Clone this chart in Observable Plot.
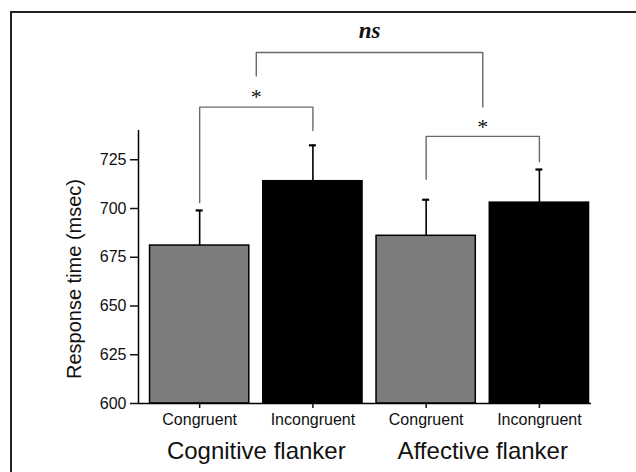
<!DOCTYPE html>
<html>
<head>
<meta charset="utf-8">
<script src="https://cdn.jsdelivr.net/npm/d3@7"></script>
<script src="https://cdn.jsdelivr.net/npm/@observablehq/plot@0.6"></script>
<style>
html, body { margin: 0; padding: 0; background: #fff; }
#wrap { position: relative; width: 636px; height: 472px; overflow: hidden; }
#wrap svg { display: block; }
#border { position: absolute; left: 10px; top: 11px; right: -20px; bottom: -20px;
  border-top: 2px solid #222; border-left: 2px solid #222; pointer-events: none; }
</style>
</head>
<body>
<div id="wrap"><div id="border"></div></div>
<script>
// ---- data ----
const groups = ["Cognitive flanker", "Affective flanker"];
const conditions = ["Congruent", "Incongruent"];
const meanRT = [681, 714, 686, 703];      // bar heights (msec)
const seRT = [18, 18.4, 18.5, 17];         // upward error bars (msec)
const yTicks = [600, 625, 650, 675, 700, 725];
const yMax = 740;
const yLabel = "Response time (msec)";

// significance brackets: [bar, bar] comparisons within groups, then group vs group
const sigLabels = ["*", "*", "ns"];
const bracketLevel = [752, 737, 780];      // msec
const bracketLeftEnd = [703, 715, 768];
const bracketRightEnd = [740, 724, 752];
const sigLabelLevel = [757, 742, 791];

// ---- derived ----
const yMin = yTicks[0];
const bars = meanRT.map((mean, i) => ({
  i, group: groups[Math.floor(i / 2)], condition: conditions[i % 2], mean, se: seRT[i]
}));
const barCenter = i => i + 0.5;
const groupCenter = g => 2 * g + 1;
const bracketEnds = [
  [barCenter(0), barCenter(1)],
  [barCenter(2), barCenter(3)],
  [groupCenter(0), groupCenter(1)]
];
const bracketPts = [];
const sig = [];
bracketEnds.forEach(([a, b], k) => {
  bracketPts.push({id: k, x: a, y: bracketLeftEnd[k]});
  bracketPts.push({id: k, x: a, y: bracketLevel[k]});
  bracketPts.push({id: k, x: b, y: bracketLevel[k]});
  bracketPts.push({id: k, x: b, y: bracketRightEnd[k]});
  sig.push({x: (a + b) / 2, y: sigLabelLevel[k], text: sigLabels[k]});
});
const xDomain = [-0.04, bars.length - 0.04];
const barFill = d => (d.i % 2 === 0 ? "#7d7d7d" : "#000000");

const chart = Plot.plot({
  width: 636,
  height: 472,
  marginLeft: 138,
  marginRight: 45,
  marginTop: 130,
  marginBottom: 69,
  x: {domain: xDomain},
  y: {domain: [yMin, yMax]},
  style: {fontFamily: "'Liberation Sans', Arial, Helvetica, sans-serif", color: "#111", background: "transparent"},
  marks: [
    Plot.rect(bars, {x1: "i", x2: d => d.i + 1, y1: yMin, y2: "mean", fill: barFill,
      stroke: "#000", strokeWidth: 1.5, insetLeft: 7, insetRight: 7}),
    Plot.ruleX(bars, {x: d => barCenter(d.i), y1: "mean", y2: d => d.mean + d.se, stroke: "#000", strokeWidth: 1.6}),
    Plot.ruleY(bars, {x1: d => barCenter(d.i), x2: d => barCenter(d.i), y: d => d.mean + d.se,
      insetLeft: -3.5, insetRight: -3.5, stroke: "#000", strokeWidth: 2.2}),
    Plot.line(bracketPts, {x: "x", y: "y", z: "id", stroke: "#6a6a6a", strokeWidth: 1.4}),
    Plot.text(sig.filter(d => d.text !== "ns"), {x: "x", y: "y", text: "text",
      fontFamily: "'Liberation Serif', 'Times New Roman', serif", fontSize: 22, fill: "#111"}),
    Plot.text(sig.filter(d => d.text === "ns"), {x: "x", y: "y", text: "text",
      fontFamily: "'Liberation Serif', 'Times New Roman', serif", fontSize: 23, fontWeight: "bold",
      fontStyle: "italic", fill: "#111"}),
    Plot.ruleX([xDomain[0]], {stroke: "#000", strokeWidth: 1.5}),
    Plot.ruleY([yMin], {stroke: "#000", strokeWidth: 1.5}),
    Plot.axisY({ticks: yTicks, tickSize: 8, tickPadding: 4, fontSize: 16, label: null, strokeWidth: 1.5}),
    Plot.axisX({ticks: bars.map(d => barCenter(d.i)), tickFormat: d => conditions[Math.floor(d) % 2],
      tickSize: 5, tickPadding: 5, fontSize: 16, label: null, strokeWidth: 1.5}),
    Plot.axisX({ticks: groups.map((g, k) => groupCenter(k)), tickFormat: d => groups[(d - 1) / 2],
      tickSize: 0, tickPadding: 38, fontSize: 24, label: null}),
    Plot.text([yLabel], {frameAnchor: "left", textAnchor: "middle", rotate: -90, dx: -64, dy: 12,
      fontSize: 20, fill: "#111"})
  ]
});
document.getElementById("wrap").prepend(chart);
</script>
</body>
</html>
